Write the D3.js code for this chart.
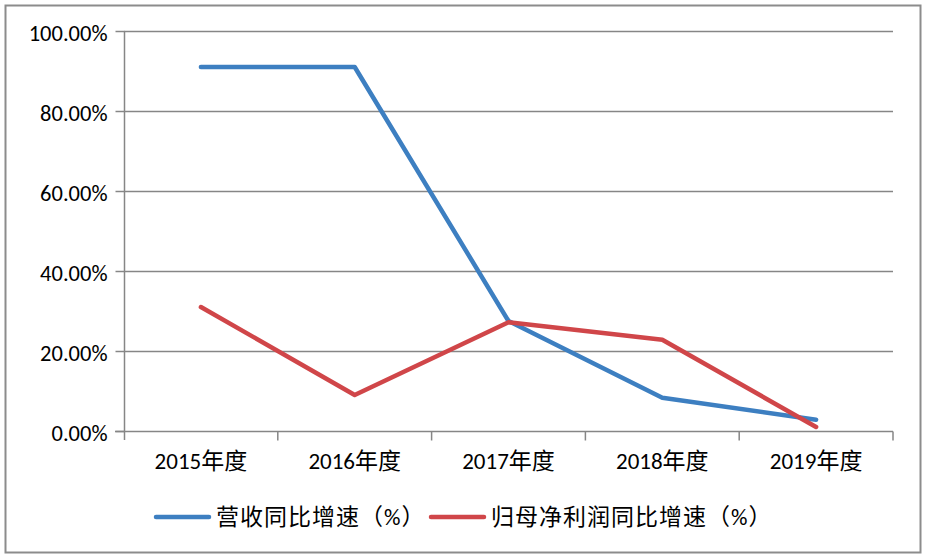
<!DOCTYPE html>
<html><head><meta charset="utf-8">
<script src="https://cdn.jsdelivr.net/npm/d3@7"></script>
<style>
html,body{margin:0;padding:0;background:#fff;}
svg text{font-family:Carlito, Lato, "Noto Sans CJK SC", sans-serif;fill:#000;}
</style></head>
<body><svg id="c" width="928" height="560"></svg>
<script>
const categories = ["2015年度","2016年度","2017年度","2018年度","2019年度"];
const revenueGrowth = [0.91, 0.91, 0.275, 0.083, 0.028];
const profitGrowth = [0.31, 0.09, 0.272, 0.228, 0.01];
const yTicks = [0, 0.2, 0.4, 0.6, 0.8, 1.0];
const seriesNames = ["营收同比增速（%）", "归母净利润同比增速（%）"];
const colors = ["#3d7fc1", "#d04649"];

(function(){
const svg = d3.select("#c");
const cjk = "Carlito, Lato, 'Noto Sans CJK SC', sans-serif";

svg.append("rect").attr("x",5.5).attr("y",5.5).attr("width",915).attr("height",547)
  .attr("fill","#fff").attr("stroke","#8c8c8c").attr("stroke-width",2);

const pL = 124, pR = 893, pT = 31, pB = 431;
const x = d3.scaleBand().domain(categories).range([pL, pR]);
const y = d3.scaleLinear().domain([0, 1]).range([pB, pT]);
const grey = "#868686";

// gridlines
svg.append("g").selectAll("line").data(yTicks.filter(d=>d>0)).join("line")
  .attr("x1", pL).attr("x2", pR)
  .attr("y1", d=>y(d)+0.5).attr("y2", d=>y(d)+0.5)
  .attr("stroke", grey).attr("stroke-width", 1.5);

// y axis
const yAxis = svg.append("g").attr("transform", `translate(${pL+0.5},0)`)
  .call(d3.axisLeft(y).tickValues(yTicks).tickSize(9).tickPadding(8).tickFormat(d=>(d*100).toFixed(2)+"%"));
yAxis.select(".domain").attr("stroke", grey).attr("stroke-width",1.5).attr("d", `M0,${pT}V${pB+9}`);
yAxis.selectAll(".tick line").attr("stroke", grey).attr("stroke-width",1.5);
yAxis.selectAll(".tick text").attr("font-size", 22.5).style("font-family", cjk).attr("dy","0.4em");

// x axis
const xAxisG = svg.append("g").attr("transform", `translate(0,${pB+0.5})`);
xAxisG.append("line").attr("x1", pL-9).attr("x2", pR).attr("stroke", grey).attr("stroke-width",1.5);
const bounds = categories.map(c=>x(c)).concat([pR]).slice(1);
xAxisG.selectAll("line.t").data(bounds).join("line").attr("class","t")
  .attr("x1", d=>d).attr("x2", d=>d).attr("y1",0).attr("y2",9)
  .attr("stroke", grey).attr("stroke-width",1.5);
xAxisG.selectAll("text").data(categories).join("text")
  .attr("x", d=>x(d)+x.bandwidth()/2).attr("y", 37)
  .attr("text-anchor","middle").attr("font-size",23).style("font-family", cjk).text(d=>d);

// lines
const line = d3.line().x((d,i)=>x(categories[i])+x.bandwidth()/2).y(d=>y(d));
[revenueGrowth, profitGrowth].forEach((s,i)=>{
  svg.append("path").datum(s).attr("d", line).attr("fill","none")
    .attr("stroke", colors[i]).attr("stroke-width",4.5)
    .attr("stroke-linejoin","round").attr("stroke-linecap","round");
});

// legend
const legendItems = [{x:156, name:seriesNames[0], c:colors[0]},{x:431, name:seriesNames[1], c:colors[1]}];
legendItems.forEach(it=>{
  svg.append("line").attr("x1", it.x).attr("x2", it.x+53).attr("y1",517).attr("y2",517)
    .attr("stroke", it.c).attr("stroke-width",4.5).attr("stroke-linecap","round");
  svg.append("text").attr("x", it.x+60).attr("y", 517).attr("dy","0.36em")
    .attr("font-size",23).attr("letter-spacing",1).style("font-family", cjk).text(it.name);
});
})();
</script></body></html>
